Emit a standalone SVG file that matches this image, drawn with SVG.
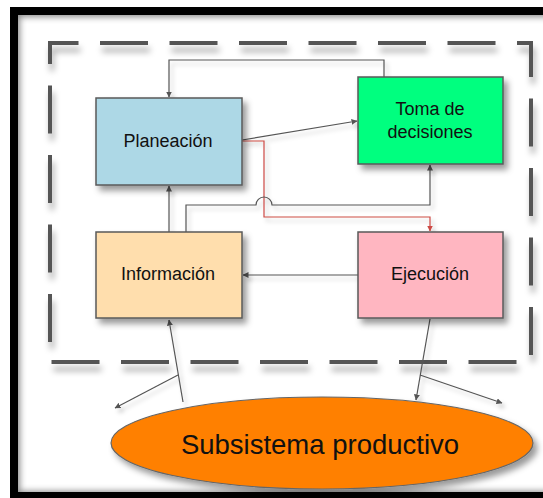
<svg xmlns="http://www.w3.org/2000/svg" width="543" height="498" viewBox="0 0 543 498">
<style>
.box{stroke:#5a5a5a;stroke-width:1.5}
.lbl{font-family:"Liberation Sans",Arial,sans-serif;font-size:18px;fill:#111;text-anchor:middle}
.con{fill:none;stroke:#555;stroke-width:1.2}
.red{fill:none;stroke:#cc4a44;stroke-width:1.2}
</style>
<defs>
<filter id="sh" x="-20%" y="-20%" width="150%" height="150%">
<feDropShadow dx="4" dy="5" stdDeviation="3" flood-color="#000" flood-opacity="0.4"/>
</filter>
<filter id="shl" x="-20%" y="-20%" width="150%" height="150%">
<feDropShadow dx="3" dy="4" stdDeviation="2" flood-color="#000" flood-opacity="0.22"/>
</filter>
<filter id="shd" x="-10%" y="-10%" width="120%" height="130%">
<feDropShadow dx="2" dy="7" stdDeviation="3" flood-color="#000" flood-opacity="0.35"/>
</filter>
<filter id="blur"><feGaussianBlur stdDeviation="3"/></filter>
<clipPath id="inner"><rect x="18" y="15" width="530" height="477"/></clipPath>
<marker id="ah" viewBox="0 0 6 6" refX="5.5" refY="3" markerWidth="5" markerHeight="5" orient="auto" markerUnits="strokeWidth">
<path d="M0,0 L6,3 L0,6 z" fill="#555"/>
</marker>
<marker id="ahr" viewBox="0 0 6 6" refX="5.5" refY="3" markerWidth="5" markerHeight="5" orient="auto" markerUnits="strokeWidth">
<path d="M0,0 L6,3 L0,6 z" fill="#cc4a44"/>
</marker>
</defs>
<rect width="543" height="498" fill="#fff"/>
<g id="frame">
<g clip-path="url(#inner)">
<rect x="15" y="12" width="540" height="484" fill="none" stroke="#000" stroke-opacity="0.45" stroke-width="10" filter="url(#blur)"/>
</g>
<rect x="14" y="11" width="545" height="485" fill="none" stroke="#000" stroke-width="8"/>
</g>
<g id="boundary" filter="url(#shd)">
<path d="M50,43 H531 V362 H50 Z" fill="none" stroke="#555" stroke-width="4" stroke-dasharray="48 21.5" stroke-dashoffset="19.5"/>
</g>
<g id="connectors" filter="url(#shl)">
<path class="con" d="M384,77 V60 H169 V97" marker-end="url(#ah)"/>
<path class="con" d="M242,140 L357,121" marker-end="url(#ah)"/>
<path class="red" d="M242,141 H264 V217 H430 V231" marker-end="url(#ahr)"/>
<path class="con" d="M169,232 V186" marker-end="url(#ah)"/>
<path class="con" d="M186,232 V205 H256 A8,8 0 0 1 272,205 H430 V165" marker-end="url(#ah)"/>
<path class="con" d="M358,275 H243" marker-end="url(#ah)"/>
<path class="con" d="M183,402 L169,320" marker-end="url(#ah)"/>
<path class="con" d="M178,375 L115,408" marker-end="url(#ah)"/>
<path class="con" d="M430,319 L416,400" marker-end="url(#ah)"/>
<path class="con" d="M420,375 L502,403" marker-end="url(#ah)"/>
</g>
<g id="planeacion">
<rect class="box" x="96" y="98" width="146" height="87" fill="#add8e6" filter="url(#sh)"/>
<text class="lbl" x="168" y="147">Planeación</text>
</g>
<g id="toma">
<rect class="box" x="358" y="77" width="145" height="87" fill="#00ff7f" filter="url(#sh)"/>
<text class="lbl" x="430" y="115">Toma de</text>
<text class="lbl" x="430" y="138">decisiones</text>
</g>
<g id="informacion">
<rect class="box" x="96" y="232" width="146" height="86" fill="#ffdead" filter="url(#sh)"/>
<text class="lbl" x="168" y="280">Información</text>
</g>
<g id="ejecucion">
<rect class="box" x="358" y="232" width="145" height="86" fill="#ffb6c1" filter="url(#sh)"/>
<text class="lbl" x="430" y="280">Ejecución</text>
</g>
<g id="subsistema">
<ellipse cx="322" cy="443" rx="211" ry="46" fill="#ff8000" stroke="#666" stroke-width="1.2" filter="url(#sh)"/>
<text x="320" y="454" font-family="Liberation Sans,Arial,sans-serif" font-size="27.5" fill="#111" text-anchor="middle">Subsistema productivo</text>
</g>
</svg>
